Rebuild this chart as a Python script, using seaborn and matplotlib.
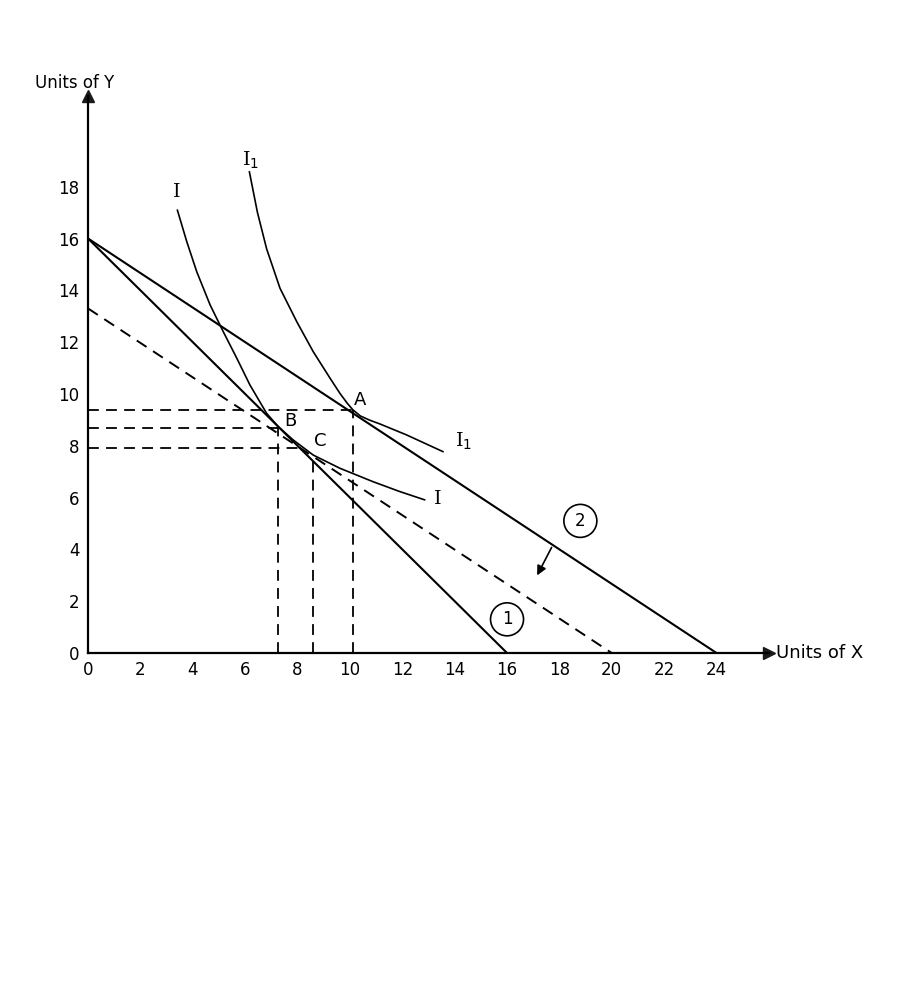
import matplotlib
matplotlib.use("Agg")
import matplotlib.pyplot as plt
import seaborn as sns
import pandas as pd

# --- Dados ---
# retas orçamentárias (interceptos)
budget_1 = {"x": [0, 16], "y": [16, 0]}
budget_2 = {"x": [0, 24], "y": [16, 0]}
budget_comp = {"x": [0, 20], "y": [13.3, 0]}   # reta compensada (tracejada)

# curva de indiferença I
curve_i_x = [3.41, 3.77, 4.15, 4.66, 5.16, 5.68, 6.18, 6.82, 7.26, 7.84, 8.60,
             9.62, 10.89, 11.91, 12.86]
curve_i_y = [17.10, 15.88, 14.72, 13.44, 12.41, 11.38, 10.35, 9.25, 8.74, 8.22, 7.64,
             7.13, 6.61, 6.23, 5.91]

# curva de indiferença I1
curve_i1_x = [6.16, 6.47, 6.82, 7.33, 7.97, 8.60, 9.24, 9.62, 9.90, 10.11, 10.40,
              10.75, 11.15, 12.16, 13.56]
curve_i1_y = [18.58, 17.00, 15.60, 14.08, 12.79, 11.63, 10.61, 10.02, 9.64, 9.39, 9.15,
              8.99, 8.84, 8.42, 7.77]

# projeções tracejadas: (x vertical, topo vertical, y horizontal, fim horizontal)
proj_a = (10.1, 9.38, 9.38, 10.1)
proj_b = (7.26, 8.68, 8.68, 7.26)
proj_c = (8.58, 7.7, 7.9, 8.25)

x_ticks = list(range(0, 26, 2))
y_ticks = list(range(0, 20, 2))

sns.set_theme(style="white")
plt.rcParams["font.family"] = ["DejaVu Sans"]
plt.rcParams["text.color"] = "black"
plt.rcParams["xtick.color"] = "black"
plt.rcParams["ytick.color"] = "black"

fig = plt.figure(figsize=(9.03, 9.90), dpi=100)
ax = fig.add_axes([0.0975, 0.3404, 0.754, 0.5626])

dash = (0, (6, 4))
solid = dict(color="black", linewidth=1.5, sort=False, ax=ax)
sns.lineplot(data=pd.DataFrame(budget_1), x="x", y="y", **solid)
sns.lineplot(data=pd.DataFrame(budget_2), x="x", y="y", **solid)
sns.lineplot(data=pd.DataFrame(budget_comp), x="x", y="y", color="black",
             linewidth=1.4, linestyle=dash, sort=False, ax=ax)

sns.lineplot(x=curve_i_x, y=curve_i_y, color="black", linewidth=1.2, sort=False, ax=ax)
sns.lineplot(x=curve_i1_x, y=curve_i1_y, color="black", linewidth=1.2, sort=False, ax=ax)

# linhas de referência tracejadas até os eixos
for vx, vtop, hy, hend in [proj_a, proj_b, proj_c]:
    ax.plot([0, hend], [hy, hy], color="black", linewidth=1.3, linestyle=dash)
    ax.plot([vx, vx], [0, vtop], color="black", linewidth=1.3, linestyle=dash)

# rótulos dos pontos
ax.text(10.4, 9.75, "A", fontsize=13, ha="center", va="center")
ax.text(7.72, 8.95, "B", fontsize=13, ha="center", va="center")
ax.text(8.87, 8.2, "C", fontsize=13, ha="center", va="center")

# rótulos das curvas
serif = "DejaVu Serif"
ax.text(3.4, 17.6, "I", fontsize=14, family=serif, ha="center")
ax.text(6.2, 18.8, "I$_1$", fontsize=14, family=serif, ha="center")
ax.text(13.2, 5.75, "I", fontsize=14, family=serif)
ax.text(14.0, 7.95, "I$_1$", fontsize=14, family=serif)

# números circulados
circ = dict(boxstyle="circle,pad=0.45", fc="white", ec="black", lw=1.2)
ax.text(16.0, 1.3, "1", fontsize=12, ha="center", va="center", bbox=circ)
ax.text(18.8, 5.1, "2", fontsize=12, ha="center", va="center", bbox=circ)
ax.annotate("", xy=(17.1, 2.9), xytext=(17.75, 4.17),
            arrowprops=dict(arrowstyle="-|>", color="black", lw=1.2,
                            mutation_scale=14))

# eixos
ax.set_xlim(0, 26)
ax.set_ylim(0, 21.5)
ax.set_xticks(x_ticks)
ax.set_yticks(y_ticks)
ax.tick_params(direction="in", length=5, width=1, labelsize=12, pad=6)
sns.despine(ax=ax)
for side in ["left", "bottom"]:
    ax.spines[side].set_linewidth(1.6)
    ax.spines[side].set_color("black")
ax.set_xlabel("")
ax.set_ylabel("")
ax.plot(1, 0, ">k", markersize=8, transform=ax.get_yaxis_transform(), clip_on=False)
ax.plot(0, 1, "^k", markersize=8, transform=ax.get_xaxis_transform(), clip_on=False)

ax.text(1.01, 0, "Units of X", transform=ax.transAxes, fontsize=13, va="center")
ax.text(-0.02, 1.015, "Units of Y", transform=ax.transAxes, fontsize=12, ha="center")

fig.savefig("out.png", dpi=100, facecolor="white")
